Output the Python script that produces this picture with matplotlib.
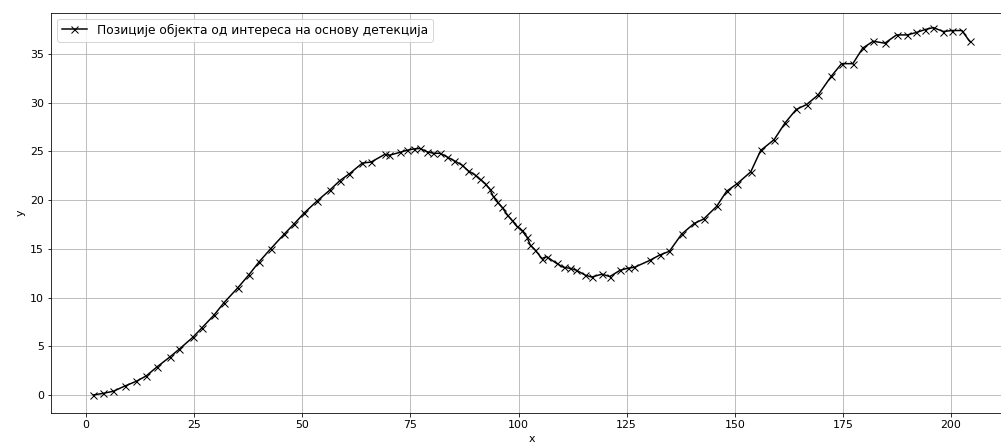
import matplotlib
matplotlib.use('Agg')
import matplotlib.pyplot as plt

# Detected object positions
x_positions = [1.7, 4.0, 6.3, 9.0, 11.6, 13.9, 16.3, 19.3, 21.6, 24.7,
               26.7, 29.6, 31.9, 35.1, 37.6, 40.0, 42.7, 45.8, 48.1, 50.5,
               53.4, 56.3, 58.7, 60.9, 63.9, 65.9, 69.1, 70.1, 72.6, 74.1,
               75.8, 77.2, 78.8, 80.3, 81.9, 83.4, 85.1, 86.9, 88.4, 89.9,
               91.1, 92.3, 93.4, 94.1, 95.1, 96.1, 97.4, 98.4, 99.6, 100.7,
               101.9, 102.7, 103.8, 105.4, 106.5, 108.8, 110.4, 111.9, 113.4, 115.4,
               116.9, 119.3, 121.1, 123.5, 125.2, 126.8, 130.3, 132.6, 134.9, 137.7,
               140.6, 142.8, 145.8, 148.1, 150.6, 153.7, 156.0, 159.1, 161.6, 164.2,
               166.6, 169.3, 172.3, 174.7, 177.3, 179.6, 182.0, 184.7, 187.4, 189.9,
               192.0, 194.0, 195.9, 198.2, 200.2, 202.5, 204.3]
y_positions = [0.0, 0.17, 0.38, 0.92, 1.4, 1.95, 2.84, 3.87, 4.72, 5.92,
               6.84, 8.2, 9.47, 11.0, 12.3, 13.65, 15.0, 16.5, 17.55, 18.7,
               19.9, 21.0, 22.0, 22.7, 23.8, 23.9, 24.7, 24.6, 24.9, 25.1,
               25.25, 25.3, 24.97, 24.8, 24.8, 24.45, 24.05, 23.6, 23.0, 22.6,
               22.15, 21.7, 21.1, 20.4, 19.85, 19.3, 18.5, 17.96, 17.3, 16.9,
               16.25, 15.4, 14.9, 14.0, 14.2, 13.5, 13.1, 13.0, 12.8, 12.3,
               12.1, 12.4, 12.15, 12.8, 13.0, 13.1, 13.8, 14.35, 14.75, 16.5,
               17.6, 18.05, 19.35, 20.9, 21.7, 22.9, 25.1, 26.2, 27.9, 29.3,
               29.8, 30.8, 32.7, 34.0, 34.0, 35.6, 36.3, 36.1, 36.95, 36.95,
               37.2, 37.5, 37.7, 37.3, 37.4, 37.4, 36.3]
legend_label = 'Позиције објекта од интереса на основу детекција'

# Create plot
figure = plt.figure(figsize=(1001 / 72, 448 / 72), dpi=72)
axes = figure.add_axes([51 / 1001, 35 / 448, 961 / 1001, 400.5 / 448])

axes.plot(x_positions, y_positions, color='black', marker='x',
          markersize=7, linewidth=1.5, label=legend_label)

axes.set_xlim(-8.1, 214.1)
axes.set_ylim(-1.85, 39.25)
axes.set_xticks(range(0, 201, 25))
axes.set_yticks(range(0, 36, 5))
axes.grid(True, color='#b0b0b0', linewidth=0.8)
axes.set_xlabel('x', fontsize=11, labelpad=4)
axes.set_ylabel('y', fontsize=11)
axes.tick_params(labelsize=11)
axes.legend(loc='upper left', fontsize=12.3, handlelength=2.0)

figure.savefig('out.png', dpi=72)
